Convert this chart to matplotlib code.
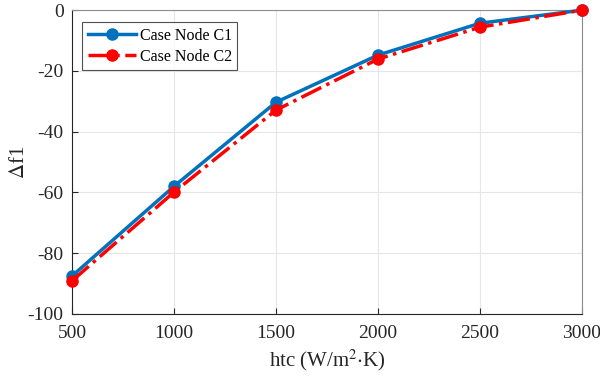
import matplotlib
matplotlib.use("Agg")
import matplotlib.pyplot as plt

htc = [500, 1000, 1500, 2000, 2500, 3000]
df1_c1 = [-87.5, -58.0, -30.3, -14.8, -4.3, 0.0]
df1_c2 = [-89.1, -59.9, -32.9, -16.1, -5.6, 0.0]
xticks = [500, 1000, 1500, 2000, 2500, 3000]
yticks = [-100, -80, -60, -40, -20, 0]

plt.rcParams["font.family"] = ["Liberation Serif", "DejaVu Serif"]
plt.rcParams["mathtext.fontset"] = "stix"
plt.rcParams["axes.unicode_minus"] = False

fig = plt.figure(figsize=(6, 3.76), dpi=100)
ax = fig.add_axes([0.12, 0.165, 0.85, 0.808])

ax.plot(htc, df1_c1, "-o", color="#0072BD", linewidth=2.5, markersize=8,
        label="Case Node C1", clip_on=False, zorder=3)
ax.plot(htc, df1_c2, "-.o", color="#FF0000", linewidth=2.5, markersize=8,
        label="Case Node C2", clip_on=False, zorder=4)

ax.set_xlim(500, 3000)
ax.set_ylim(-100, 0)
ax.set_xticks(xticks)
ax.set_yticks(yticks)
ax.grid(True, color="#e6e6e6", linewidth=0.8)
ax.tick_params(direction="in", labelsize=14, colors="#262626", length=4)
ax.tick_params(axis="x", pad=8)
ax.tick_params(axis="y", pad=6)
for s in ax.spines.values():
    s.set_color("#262626")
    s.set_linewidth(0.8)
for s in ("top", "right"):
    ax.spines[s].set_color("#8c8c8c")

ax.set_xlabel(r"htc (W/m$^2$$\cdot$K)", fontsize=15, color="#262626", labelpad=4)
ax.set_ylabel(r"$\Delta$f1", fontsize=15, color="#262626")
ax.yaxis.set_label_coords(-0.085, 0.5)

leg = ax.legend(loc="upper left", bbox_to_anchor=(0.02, 0.96), fontsize=11.5,
                frameon=True, fancybox=False, edgecolor="#262626",
                handlelength=3.0, borderpad=0.35, labelspacing=0.3,
                handletextpad=0.25, borderaxespad=0.0)
leg.get_frame().set_linewidth(0.8)

fig.savefig("out.png", dpi=100)
